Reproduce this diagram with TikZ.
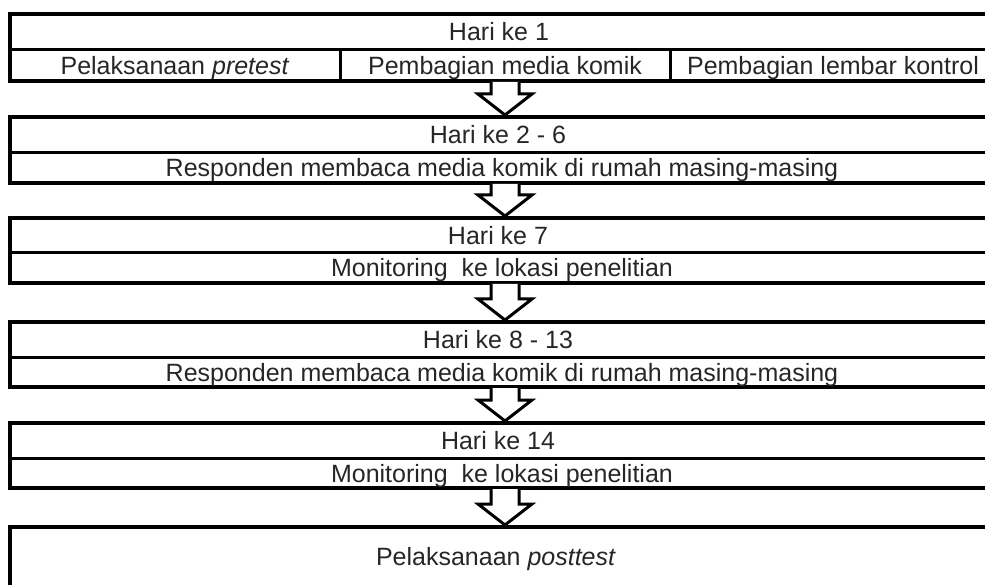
\documentclass[tikz,border=0pt]{standalone}
\usepackage{fontspec}
\setmainfont{Liberation Sans}
\usepackage{tikz}
\usetikzlibrary{calc}
\newcommand{\panah}[2]{\draw[blok] ($(#1.south)+(-14,-1)$) -- ($(#2.north)+(-14,-21)$) -- ($(#2.north)+(-27,-21)$) -- (#2.north) -- ($(#2.north)+(27,-21)$) -- ($(#2.north)+(14,-21)$) -- ($(#1.south)+(14,-1)$);}

\begin{document}
\begin{tikzpicture}[x=1pt,y=-1pt,
	kotak/.style={draw,line width=4pt,minimum width=990pt,inner sep=0pt},
	teks/.style={font=\fontsize{25}{30}\selectfont,inner sep=0pt,text height=18pt,text depth=0pt,text=black!85},
	garis/.style={line width=3pt},
	blok/.style={draw,line width=3pt,fill=white,line join=miter}]
					\useasboundingbox (0,0) rectangle (985,585);
					\clip (0,0) rectangle (985,585);
					\node[kotak,minimum height=67pt] (k1) at (505,47.5) {};
					\node[kotak,minimum height=66pt] (k2) at (505,150) {};
					\node[kotak,minimum height=65pt] (k3) at (505,250.5) {};
					\node[kotak,minimum height=65pt] (k4) at (505,354.5) {};
					\node[kotak,minimum height=65pt] (k5) at (505,455.5) {};
					\node[kotak,minimum height=63pt] (k6) at (505,558.5) {};
					\draw[garis] (k1.west |- 0,50) -- (k1.east |- 0,50);
					\draw[garis] (340,50) -- (340,81);
					\draw[garis] (670,50) -- (670,81);
					\draw[garis] (k2.west |- 0,153) -- (k2.east |- 0,153);
					\draw[garis] (k3.west |- 0,253) -- (k3.east |- 0,253);
					\draw[garis] (k4.west |- 0,357) -- (k4.east |- 0,357);
					\draw[garis] (k5.west |- 0,458) -- (k5.east |- 0,458);
					\node[teks] (h1) at (499,32) {Hari ke 1};
					\node[teks] (pre) at (175,65.5) {Pelaksanaan \textit{pretest}};
					\node[teks] (media) at (505,65.5) {Pembagian media komik};
					\node[teks] (lembar) at (833,65.5) {Pembagian lembar kontrol};
					\node[teks] (h2) at (498,135) {Hari ke 2 - 6};
					\node[teks] (baca1) at (502,168) {Responden membaca media komik di rumah masing-masing};
					\node[teks] (h7) at (498,235.5) {Hari ke 7};
					\node[teks] (mon1) at (502,268) {Monitoring\ \ ke lokasi penelitian};
					\node[teks] (h8) at (498,339.5) {Hari ke 8 - 13};
					\node[teks] (baca2) at (502,372) {Responden membaca media komik di rumah masing-masing};
					\node[teks] (h14) at (498,440.5) {Hari ke 14};
					\node[teks] (mon2) at (502,473) {Monitoring\ \ ke lokasi penelitian};
					\node[teks] (post) at (496,556) {Pelaksanaan \textit{posttest}};
					\panah{k1}{k2}
					\panah{k2}{k3}
					\panah{k3}{k4}
					\panah{k4}{k5}
					\panah{k5}{k6}
					\end{tikzpicture}
\end{document}
